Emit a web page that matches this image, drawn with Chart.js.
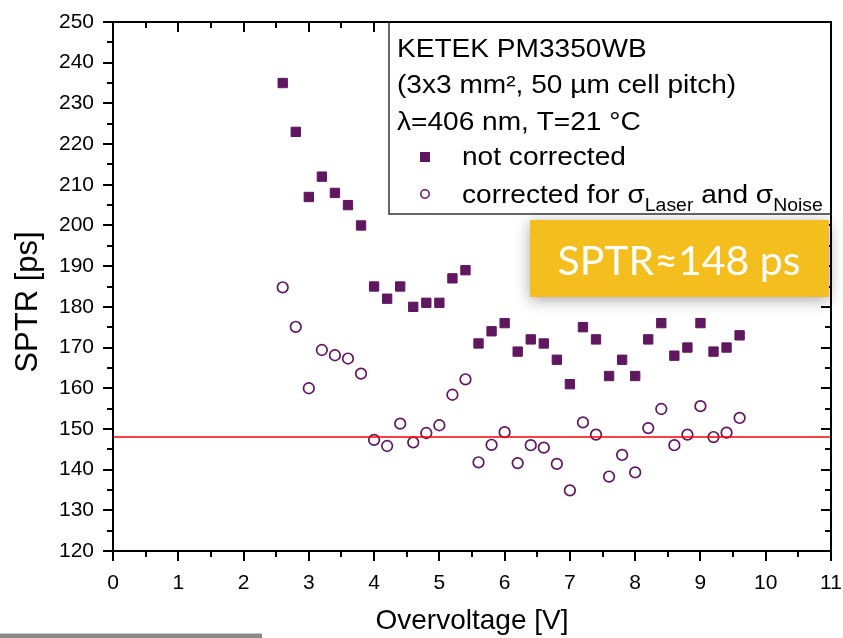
<!DOCTYPE html>
<html>
<head>
<meta charset="utf-8">
<title>SPTR vs Overvoltage</title>
<script src="https://cdn.jsdelivr.net/npm/chart.js@4.4.1/dist/chart.umd.min.js"></script>
<style>
    html, body { margin: 0; padding: 0; background: #fff; }
    canvas { display: block; }
</style>
</head>
<body>
<canvas id="sptr-chart" width="843" height="638"></canvas>
<script>
// Overvoltage steps [V]
const overvoltage = [2.6, 2.8, 3.0, 3.2, 3.4, 3.6, 3.8, 4.0, 4.2, 4.4, 4.6, 4.8,
                     5.0, 5.2, 5.4, 5.6, 5.8, 6.0, 6.2, 6.4, 6.6, 6.8, 7.0, 7.2,
                     7.4, 7.6, 7.8, 8.0, 8.2, 8.4, 8.6, 8.8, 9.0, 9.2, 9.4, 9.6];

// SPTR [ps], raw measurement
const sptrNotCorrected = [235, 223, 207, 212, 208, 205, 200, 185, 182, 185, 180, 181,
                          181, 187, 189, 171, 174, 176, 169, 172, 171, 167, 161, 175,
                          172, 163, 167, 163, 172, 176, 168, 170, 176, 169, 170, 173];

// SPTR [ps], corrected for laser and noise jitter
const sptrCorrected = [184.8, 175.1, 160.0, 169.4, 168.1, 167.3, 163.6, 147.3, 145.8, 151.3, 146.7, 149.0,
                       150.9, 158.4, 162.2, 141.8, 146.1, 149.2, 141.6, 146.0, 145.4, 141.4, 134.9, 151.6,
                       148.6, 138.3, 143.6, 139.3, 150.2, 154.9, 146.0, 148.6, 155.6, 148.0, 149.1, 152.7];

// Average corrected level
const sptrLevel = 148;

// Axis ranges and tick steps
const xRange = [0, 11];
const yRange = [120, 250];
const xStep = 1;
const yStep = 10;

const PURPLE = '#5f175f';
const FONT = '"Liberation Sans", Arial, sans-serif';

function toPoints(xs, ys) {
    return xs.map((x, i) => ({ x: x, y: ys[i] }));
}

// keep the plot box exactly where we want it (no extra room for edge labels)
function fixScale(size) {
    return (scale) => {
        if (scale.isHorizontal()) scale.height = size;
        else scale.width = size;
        scale.paddingLeft = 0;
        scale.paddingRight = 0;
        scale.paddingTop = 0;
        scale.paddingBottom = 0;
    };
}

// Box frame with major/minor ticks on all four sides, plus the legend and the note box
const framePlugin = {
    id: 'frame',
    afterDatasetsDraw(chart) {
        const ctx = chart.ctx;
        const area = chart.chartArea;
        const xs = chart.scales.x;
        const ys = chart.scales.y;

        ctx.save();
        ctx.strokeStyle = '#000';
        ctx.lineWidth = 2;
        ctx.beginPath();

        // x ticks: bottom outward, top inward
        for (let v = xRange[0]; v <= xRange[1] + 1e-9; v += xStep / 2) {
            const px = Math.round(xs.getPixelForValue(v));
            const major = Math.abs(v - Math.round(v)) < 1e-9;
            const len = major ? 10 : 6;
            ctx.moveTo(px, area.bottom);
            ctx.lineTo(px, area.bottom + len);
            ctx.moveTo(px, area.top);
            ctx.lineTo(px, area.top + len);
        }
        // y ticks: left outward, right inward
        for (let v = yRange[0]; v <= yRange[1] + 1e-9; v += yStep / 2) {
            const py = Math.round(ys.getPixelForValue(v));
            const major = Math.abs(v % yStep) < 1e-9;
            const len = major ? 10 : 6;
            ctx.moveTo(area.left, py);
            ctx.lineTo(area.left - len, py);
            ctx.moveTo(area.right, py);
            ctx.lineTo(area.right - len, py);
        }
        ctx.stroke();
        ctx.strokeRect(area.left, area.top, area.right - area.left, area.bottom - area.top);

        // y axis title
        ctx.save();
        ctx.translate(28, 302);
        ctx.rotate(-Math.PI / 2);
        ctx.fillStyle = '#000';
        ctx.textAlign = 'center';
        ctx.textBaseline = 'middle';
        ctx.font = '31px ' + FONT;
        ctx.fillText('SPTR [ps]', 0, 0);
        ctx.restore();

        // legend box
        const lx = 389, ly = area.top, lw = area.right - 389, lh = 192;
        ctx.fillStyle = '#fff';
        ctx.fillRect(lx, ly, lw, lh);
        ctx.lineWidth = 1.5;
        ctx.strokeStyle = '#333';
        ctx.strokeRect(lx, ly, lw, lh);
        ctx.lineWidth = 2;
        ctx.strokeStyle = '#000';
        ctx.beginPath();
        ctx.moveTo(lx, ly);
        ctx.lineTo(area.right, ly);
        ctx.lineTo(area.right, ly + lh);
        ctx.stroke();

        // legend text, slightly widened like the original face
        const sx = 1.08;
        const put = (txt, x, y) => {
            ctx.save();
            ctx.translate(x, y);
            ctx.scale(sx, 1);
            ctx.fillText(txt, 0, 0);
            ctx.restore();
            return ctx.measureText(txt).width * sx;
        };
        ctx.fillStyle = '#000';
        ctx.textBaseline = 'alphabetic';
        ctx.textAlign = 'left';
        ctx.font = '26px ' + FONT;
        put('KETEK PM3350WB', 397, 57);
        put('(3x3 mm², 50 µm cell pitch)', 397, 93);
        put('λ=406 nm, T=21 °C', 397, 130);
        put('not corrected', 462, 165);

        let tx = 462;
        const parts = [
            ['corrected for σ', 26, 0],
            ['Laser', 18, 8],
            [' and σ', 26, 0],
            ['Noise', 18, 8]
        ];
        parts.forEach(([txt, size, drop]) => {
            ctx.font = size + 'px ' + FONT;
            tx += put(txt, tx, 203 + drop);
        });

        // legend markers
        ctx.fillStyle = PURPLE;
        ctx.fillRect(420, 152, 10, 10);
        ctx.strokeStyle = PURPLE;
        ctx.lineWidth = 1.5;
        ctx.beginPath();
        ctx.arc(425, 194, 4.2, 0, Math.PI * 2);
        ctx.stroke();
        ctx.restore();
    },
    afterDraw(chart) {
        const ctx = chart.ctx;
        ctx.save();
        // highlighted SPTR note
        ctx.shadowColor = 'rgba(0, 0, 0, 0.35)';
        ctx.shadowBlur = 14;
        ctx.shadowOffsetY = 3;
        ctx.fillStyle = '#f4be1e';
        ctx.fillRect(530, 220, 299, 77);
        ctx.shadowColor = 'transparent';
        ctx.fillStyle = '#fff';
        ctx.textAlign = 'center';
        ctx.textBaseline = 'alphabetic';
        ctx.font = '41px Lato, "Open Sans", sans-serif';
        ctx.fillText('SPTR≈' + sptrLevel + ' ps', 679, 275);

        // grey strip along the bottom edge
        ctx.fillStyle = '#8a8a8a';
        ctx.fillRect(0, 634, 262, 4);
        ctx.fillStyle = '#c8c8c8';
        ctx.fillRect(0, 633, 262, 1);
        ctx.restore();
    }
};

const ctx = document.getElementById('sptr-chart').getContext('2d');

const chart = new Chart(ctx, {
    type: 'scatter',
    data: {
        datasets: [
            {
                type: 'line',
                label: 'SPTR level',
                data: [{ x: xRange[0], y: sptrLevel }, { x: xRange[1], y: sptrLevel }],
                borderColor: '#ff0000',
                borderWidth: 1.5,
                pointRadius: 0
            },
            {
                label: 'not corrected',
                data: toPoints(overvoltage, sptrNotCorrected),
                pointStyle: 'rect',
                pointRadius: 6.6,
                backgroundColor: PURPLE,
                borderColor: PURPLE,
                borderWidth: 1
            },
            {
                label: 'corrected',
                data: toPoints(overvoltage, sptrCorrected),
                pointStyle: 'circle',
                pointRadius: 5.3,
                backgroundColor: 'rgba(255,255,255,0)',
                borderColor: PURPLE,
                borderWidth: 1.7
            }
        ]
    },
    options: {
        responsive: false,
        devicePixelRatio: 1,
        animation: false,
        layout: { padding: { top: 22, right: 12, left: 0, bottom: 0 } },
        plugins: {
            legend: { display: false },
            tooltip: { enabled: false }
        },
        scales: {
            x: {
                type: 'linear',
                min: xRange[0],
                max: xRange[1],
                afterFit: fixScale(87),
                grid: { display: false, drawTicks: false },
                border: { display: false },
                ticks: {
                    stepSize: xStep,
                    padding: 20,
                    color: '#000',
                    font: { family: FONT, size: 21 }
                },
                title: {
                    display: true,
                    text: 'Overvoltage [V]',
                    color: '#000',
                    padding: { top: 0, bottom: 0 },
                    font: { family: FONT, size: 28 }
                }
            },
            y: {
                type: 'linear',
                min: yRange[0],
                max: yRange[1],
                afterFit: fixScale(113),
                grid: { display: false, drawTicks: false },
                border: { display: false },
                ticks: {
                    stepSize: yStep,
                    padding: 19,
                    color: '#000',
                    font: { family: FONT, size: 21 }
                },
                title: { display: false }
            }
        }
    },
    plugins: [framePlugin]
});
</script>
</body>
</html>
